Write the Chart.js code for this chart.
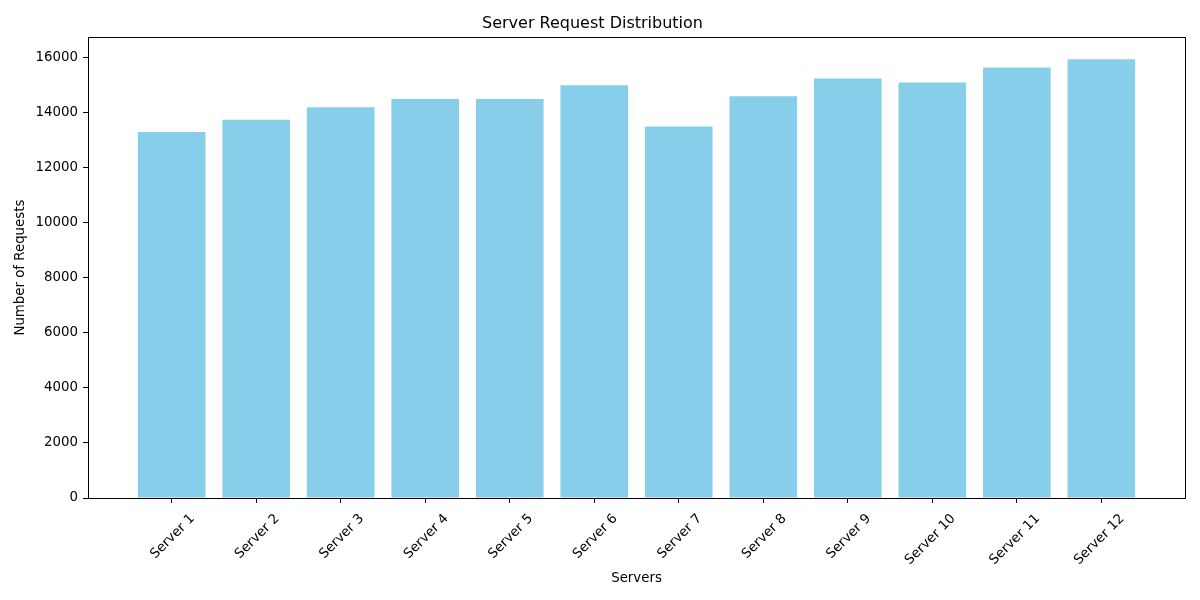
<!DOCTYPE html>
<html>
<head>
<meta charset="utf-8">
<script src="https://cdn.jsdelivr.net/npm/chart.js@4/dist/chart.umd.min.js"></script>
<style>
  html, body { margin: 0; padding: 0; background: #fff; }
  #wrap { width: 1200px; height: 600px; position: relative; }
</style>
</head>
<body>
<div id="wrap"><canvas id="chart"></canvas></div>
<script>
const categories = ['Server 1', 'Server 2', 'Server 3', 'Server 4', 'Server 5', 'Server 6',
  'Server 7', 'Server 8', 'Server 9', 'Server 10', 'Server 11', 'Server 12'];
const requests = [13300, 13750, 14200, 14500, 14500, 15000, 13500, 14600, 15250, 15100, 15650, 15950];
const yTicks = [0, 2000, 4000, 6000, 8000, 10000, 12000, 14000, 16000];

const font = { family: "'DejaVu Sans', sans-serif", size: 13.33 };

// matplotlib-style closed frame around the plot area
const frame = {
  id: 'frame',
  afterDraw(chart) {
    const { ctx, chartArea: a } = chart;
    ctx.save();
    ctx.strokeStyle = '#000';
    ctx.lineWidth = 1;
    ctx.strokeRect(Math.round(a.left) + 0.5, Math.round(a.top) + 0.5,
      Math.round(a.right - a.left), Math.round(a.bottom - a.top));
    ctx.restore();
  },
};

new Chart(document.getElementById('chart'), {
  type: 'bar',
  data: {
    datasets: [{
      data: requests.map((v, i) => ({ x: i, y: v })),
      backgroundColor: '#87CEEB',
      borderWidth: 0,
      barPercentage: 0.8,
      categoryPercentage: 1,
    }],
  },
  options: {
    responsive: true,
    maintainAspectRatio: false,
    animation: false,
    layout: { padding: { left: 0, right: 15, top: 0, bottom: 0 } },
    plugins: {
      legend: { display: false },
      tooltip: { enabled: false },
      title: {
        display: true,
        text: 'Server Request Distribution',
        color: '#000',
        font: { family: font.family, size: 16, weight: 'normal' },
        padding: { top: 14, bottom: 4 },
      },
    },
    scales: {
      x: {
        type: 'linear',
        offset: false,
        min: -0.99,
        max: 11.99,
        afterBuildTicks: (s) => { s.ticks = categories.map((_, i) => ({ value: i })); },
        afterFit: (s) => { s.height = 102; },
        border: { display: true, color: '#000', width: 1 },
        grid: { offset: false, drawOnChartArea: false, color: '#000', tickLength: 5 },
        ticks: {
          color: '#000', font, padding: 8, labelOffset: 21,
          minRotation: 45, maxRotation: 45, autoSkip: false,
          callback: (v) => categories[v] ?? '',
        },
        title: { display: true, text: 'Servers', color: '#000', font, padding: { top: 0, bottom: 13 } },
      },
      y: {
        min: 0,
        max: 16750,
        afterBuildTicks: (s) => { s.ticks = yTicks.map((v) => ({ value: v })); },
        afterFit: (s) => { s.width = 88; },
        border: { display: true, color: '#000', width: 1 },
        grid: { drawOnChartArea: false, color: '#000', tickLength: 5 },
        ticks: { color: '#000', font, padding: 5, callback: (v) => String(v) },
        title: { display: true, text: 'Number of Requests', color: '#000', font, padding: { top: 13, bottom: 0 } },
      },
    },
  },
  plugins: [frame],
});
</script>
</body>
</html>
